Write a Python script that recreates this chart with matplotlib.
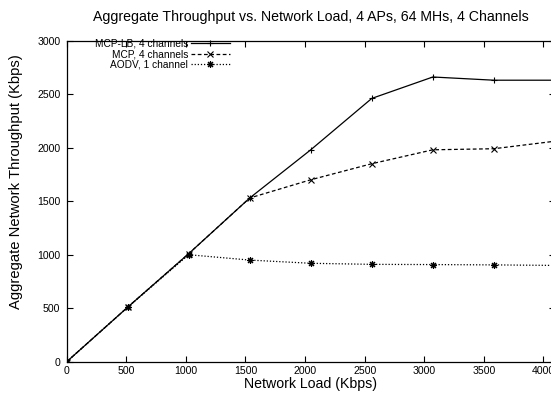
import matplotlib
matplotlib.use('Agg')
import matplotlib.pyplot as plt

plt.rcParams['font.family'] = ['Liberation Sans', 'DejaVu Sans']

load = [0, 512, 1024, 1536, 2048, 2560, 3072, 3584, 4096]
mcp_lb = [0, 510, 1010, 1530, 1980, 2460, 2660, 2630, 2630]
mcp = [0, 510, 1010, 1530, 1700, 1850, 1980, 1990, 2060]
aodv = [0, 510, 1000, 950, 920, 910, 908, 905, 900]

xticks = [0, 500, 1000, 1500, 2000, 2500, 3000, 3500, 4000]
yticks = [0, 500, 1000, 1500, 2000, 2500, 3000]

fig = plt.figure(figsize=(5.51, 3.98), dpi=100)
ax = fig.add_axes([0.121, 0.091, 0.886, 0.807])

ax.plot(load, mcp_lb, color='black', lw=0.9, ls='-', marker='+', ms=5, mew=0.8,
        label='MCP-LB, 4 channels')
ax.plot(load, mcp, color='black', lw=0.9, ls=(0, (3, 2)), marker='x', ms=4, mew=0.8,
        label='MCP, 4 channels')
ax.plot(load, aodv, color='black', lw=0.9, ls=(0, (1, 1.5)), marker=(8, 2, 0), ms=5, mew=0.8,
        label='AODV, 1 channel')

ax.set_xlim(0, 4096)
ax.set_ylim(0, 3000)
ax.set_xticks(xticks)
ax.set_yticks(yticks)
ax.tick_params(direction='in', top=True, right=True, length=4, width=0.8,
               labelsize=7.6)
ax.tick_params(axis='x', pad=3)
ax.tick_params(axis='y', pad=4.5)
for s in ax.spines.values():
    s.set_linewidth(0.9)

ax.set_xlabel('Network Load (Kbps)', fontsize=10.2, labelpad=1)
ax.set_ylabel('Aggregate Network Throughput (Kbps)', fontsize=10.6)
ax.yaxis.set_label_coords(-0.09, 0.56)
ax.set_title('Aggregate Throughput vs. Network Load, 4 APs, 64 MHs, 4 Channels',
             fontsize=10.2, pad=14)

ax.legend(loc='upper right', bbox_to_anchor=(230 / 551, 1 - 39 / 398),
          bbox_transform=fig.transFigure, frameon=False, markerfirst=False,
          fontsize=7.3, handlelength=3.85, labelspacing=0.02, handletextpad=0.3,
          borderpad=0, borderaxespad=0)

fig.savefig('out.png', dpi=100)
